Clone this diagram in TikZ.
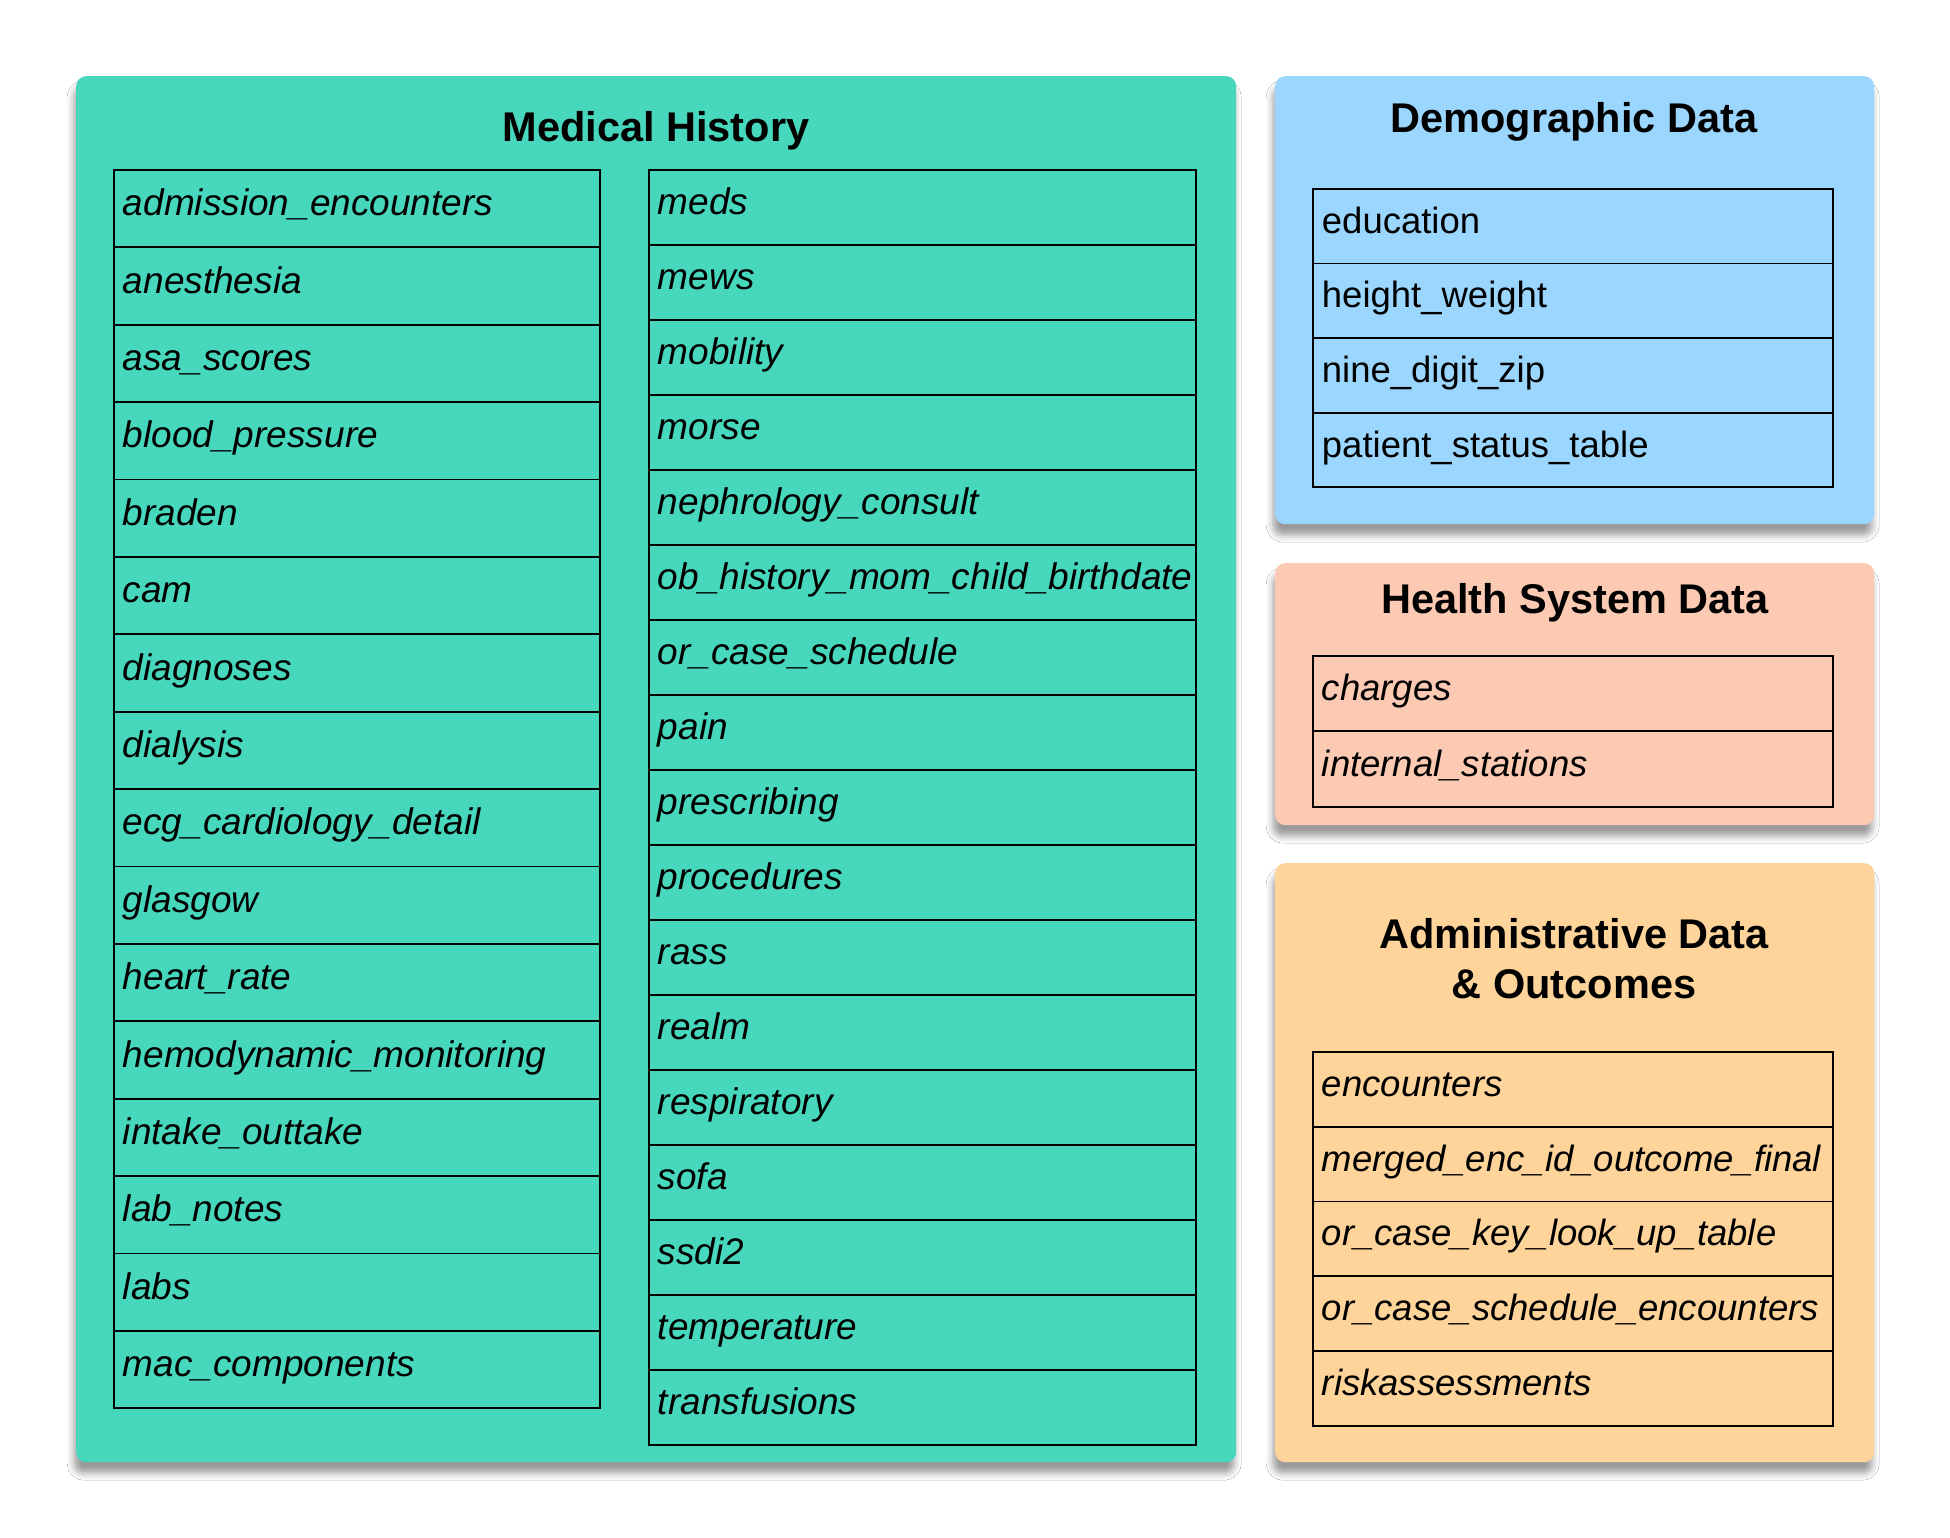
\documentclass[tikz,border=0pt]{standalone}
\usepackage{fontspec}
\setmainfont{Liberation Sans}
\usetikzlibrary{shadows.blur}
\definecolor{medc}{HTML}{47D7BC}
\definecolor{democ}{HTML}{9AD6FE}
\definecolor{healthc}{HTML}{FCC9B3}
\definecolor{adminc}{HTML}{FED49A}
\begin{document}
\begin{tikzpicture}[x=1pt,y=-1pt,
  panel/.style={rectangle, rounded corners=10pt, draw=none, anchor=north west, inner sep=0pt,
    blur shadow={shadow xshift=-2pt, shadow yshift=-11pt, shadow blur radius=7pt, shadow opacity=40}},
  ptitle/.style={font=\fontsize{41.5}{49}\selectfont\bfseries, anchor=base, inner sep=0pt},
  rowbox/.style={draw=black, line width=1.8pt, anchor=north west, inner xsep=9pt, inner ysep=0pt,
    align=left, text height=27pt, text depth=13pt},
  medL/.style={rowbox, minimum width=486pt, minimum height=77.4pt, text width=468pt, font=\fontsize{37}{44}\selectfont\itshape},
  medR/.style={rowbox, minimum width=547pt, minimum height=75pt, text width=529pt, font=\fontsize{37}{44}\selectfont\itshape},
  demo/.style={rowbox, minimum width=520pt, minimum height=74.6pt, text width=502pt, font=\fontsize{36.5}{43}\selectfont},
  hsys/.style={rowbox, minimum width=520pt, minimum height=75.4pt, text width=502pt, font=\fontsize{36.5}{43}\selectfont\itshape},
  admn/.style={rowbox, minimum width=520pt, minimum height=74.8pt, text width=502pt, font=\fontsize{36.5}{43}\selectfont\itshape},
]
\fill[white] (0,0) rectangle (1950,1538);
\useasboundingbox (0,0) rectangle (1950,1538);

% panels
\node[panel, fill=medc, minimum width=1160pt, minimum height=1386pt] (med) at (76,76) {};
\node[panel, fill=democ, minimum width=599pt, minimum height=448pt] (demo) at (1275,76) {};
\node[panel, fill=healthc, minimum width=599pt, minimum height=262pt] (hs) at (1275,563) {};
\node[panel, fill=adminc, minimum width=599pt, minimum height=599pt] (adm) at (1275,863) {};

% titles
\node[ptitle] (medt) at (656,142) {Medical History};
\node[ptitle] (demot) at (1574,133) {Demographic Data};
\node[ptitle] (hst) at (1575,613) {Health System Data};
\node[ptitle] (admt1) at (1574,948) {Administrative Data};
\node[ptitle] (admt2) at (1574,998) {\& Outcomes};

% medical history left column
\foreach \t [count=\i from 0] in {admission\_encounters, anesthesia, asa\_scores, blood\_pressure, braden, cam, diagnoses, dialysis, ecg\_cardiology\_detail, glasgow, heart\_rate, hemodynamic\_monitoring, intake\_outtake, lab\_notes, labs, mac\_components}
  \node[medL] (L\i) at (113,{169+\i*77.4}) {\mbox{\t}};

% medical history right column
\foreach \t [count=\i from 0] in {meds, mews, mobility, morse, nephrology\_consult, ob\_history\_mom\_child\_birthdate, or\_case\_schedule, pain, prescribing, procedures, rass, realm, respiratory, sofa, ssdi2, temperature, transfusions}
  \node[medR] (R\i) at (648,{169+\i*75}) {\mbox{\t}};

% demographic
\foreach \t [count=\i from 0] in {education, height\_weight, nine\_digit\_zip, patient\_status\_table}
  \node[demo] (D\i) at (1312,{188+\i*74.6}) {\mbox{\t}};

% health system
\foreach \t [count=\i from 0] in {charges, internal\_stations}
  \node[hsys] (H\i) at (1312,{655+\i*75.4}) {\mbox{\t}};

% administrative
\foreach \t [count=\i from 0] in {encounters, merged\_enc\_id\_outcome\_final, or\_case\_key\_look\_up\_table, or\_case\_schedule\_encounters, riskassessments}
  \node[admn] (A\i) at (1312,{1051+\i*74.8}) {\mbox{\t}};
\end{tikzpicture}
\end{document}
